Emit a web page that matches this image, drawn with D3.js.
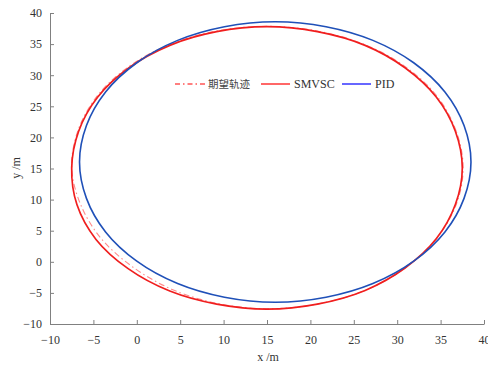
<!DOCTYPE html>
<html>
<head>
<meta charset="utf-8">
<style>
    body { margin: 0; background: #fff; }
    svg { display: block; }
    text {
        font-family: "Liberation Serif", "Times New Roman", serif;
        font-size: 12px;
        fill: #333;
    }
    .axis .domain, .axis .tick line { stroke: #808080; stroke-width: 1; }
    .axis .tick text { font-size: 12px; fill: #333; }
    .legend text.cn { font-family: "Noto Sans CJK SC", sans-serif; font-size: 10.5px; fill: #444; }
</style>
</head>
<body>
<svg width="488" height="365"></svg>

<script src="https://d3js.org/d3.v7.min.js"></script>
<script>
    // trajectory points, [x, y] in metres
    let desired = [
        [37.6, 15.1], [36.8, 21.0], [34.6, 26.6], [31.0, 31.3], [26.3, 34.9], [20.8, 37.1],
        [15.0, 37.85], [9.2, 37.1], [3.7, 34.9], [-1.0, 31.3], [-4.6, 26.6], [-6.8, 21.0],
        [-7.5, 15.1], [-6.5, 9.3], [-4.2, 3.9], [-0.6, -0.7], [4.0, -4.4], [9.3, -6.7],
        [15.0, -7.55], [20.8, -6.8], [26.3, -4.6], [30.9, -1.0], [34.5, 3.7], [36.8, 9.2]
    ];
    let smvsc = [
        [37.5, 15.1], [36.7, 21.0], [34.5, 26.5], [30.9, 31.2], [26.3, 34.8], [20.8, 37.0],
        [15.0, 37.8], [9.2, 37.0], [3.8, 34.8], [-0.9, 31.2], [-4.5, 26.5], [-6.7, 21.0],
        [-7.5, 15.1], [-6.9, 9.2], [-4.7, 3.6], [-1.0, -1.1], [3.8, -4.7], [9.2, -6.8],
        [15.0, -7.6], [20.8, -6.8], [26.3, -4.6], [30.9, -1.0], [34.5, 3.7], [36.7, 9.2]
    ];
    let pid = [
        [38.5, 16.05], [37.7, 21.9], [35.5, 27.3], [31.9, 32.0], [27.2, 35.6], [21.8, 37.8],
        [15.95, 38.6], [10.1, 37.8], [4.7, 35.6], [0.0, 32.0], [-3.6, 27.3], [-5.8, 21.9],
        [-6.6, 16.05], [-5.8, 10.2], [-3.6, 4.8], [0.0, 0.1], [4.7, -3.5], [10.1, -5.7],
        [15.95, -6.5], [21.8, -5.7], [27.2, -3.5], [31.9, 0.1], [35.5, 4.8], [37.7, 10.2]
    ];

    let xTicks = [-10, -5, 0, 5, 10, 15, 20, 25, 30, 35, 40];
    let yTicks = [-10, -5, 0, 5, 10, 15, 20, 25, 30, 35, 40];

    let legendNames = ["期望轨迹", "SMVSC", "PID"];
    let legendColors = ["#ff0000", "#ff0000", "#0000ff"];

    let svg = d3.select("svg");

    let x = d3.scaleLinear().domain([-10, 40]).range([50, 484]);
    let y = d3.scaleLinear().domain([-10, 40]).range([324, 13]);

    // axes, ticks point inward
    svg.append("g")
        .attr("class", "x axis")
        .attr("transform", "translate(0,324)")
        .call(d3.axisBottom(x).tickValues(xTicks).tickSizeInner(-4).tickSizeOuter(0).tickPadding(11))
        .call(g => g.selectAll(".tick text").attr("dy", "0.71em"));

    svg.append("g")
        .attr("class", "y axis")
        .attr("transform", "translate(50,0)")
        .call(d3.axisLeft(y).tickValues(yTicks).tickSizeInner(-4).tickSizeOuter(0).tickPadding(8));

    let line = d3.line()
        .x(d => x(d[0]))
        .y(d => y(d[1]))
        .curve(d3.curveCatmullRomClosed);

    svg.append("path")
        .datum(desired)
        .attr("fill", "none")
        .attr("stroke", "#ff8a8a")
        .attr("stroke-width", 1.1)
        .attr("stroke-dasharray", "6,3,1.5,3")
        .attr("d", line);

    svg.append("path")
        .datum(smvsc)
        .attr("fill", "none")
        .attr("stroke", "#f01e1e")
        .attr("stroke-width", 1.7)
        .attr("d", line);

    svg.append("path")
        .datum(pid)
        .attr("fill", "none")
        .attr("stroke", "#1f50b8")
        .attr("stroke-width", 1.6)
        .attr("d", line);

    // legend
    let legX = [175, 261, 342];
    let legend = svg.selectAll(".legend")
        .data(legendNames)
        .join("g")
        .attr("class", "legend")
        .attr("transform", (d, i) => `translate(${legX[i]},84)`);

    legend.append("line")
        .attr("x1", 0)
        .attr("x2", (d, i) => i == 0 ? 30 : 29)
        .attr("y1", 0)
        .attr("y2", 0)
        .attr("stroke", (d, i) => legendColors[i])
        .attr("stroke-width", 1.2)
        .attr("stroke-dasharray", (d, i) => i == 0 ? "5,3,1.5,3" : null);

    legend.append("text")
        .attr("class", (d, i) => i == 0 ? "cn" : null)
        .attr("x", 33)
        .attr("y", 0)
        .attr("dy", "0.35em")
        .text(d => d);

    // axis titles
    svg.append("text")
        .attr("x", 268)
        .attr("y", 361)
        .attr("text-anchor", "middle")
        .text("x /m");

    svg.append("text")
        .attr("transform", "translate(20,168) rotate(-90)")
        .attr("text-anchor", "middle")
        .text("y /m");
</script>
</body>
</html>
